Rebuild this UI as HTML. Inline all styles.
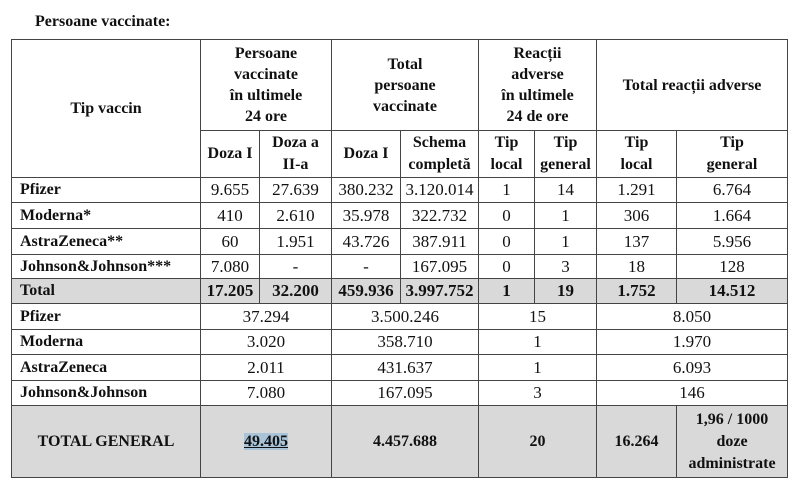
<!DOCTYPE html>
<html><head><meta charset="utf-8"><style>
html,body{margin:0;padding:0;background:#fff;width:800px;height:487px;overflow:hidden}
#title{position:absolute;left:35px;top:13px;font:bold 16px "Liberation Serif",serif;color:#111}
table{position:absolute;left:11px;top:39px;border-collapse:collapse;table-layout:fixed;font-family:"Liberation Serif",serif;color:#111}
td{border:1px solid #444;text-align:center;vertical-align:middle;padding:0;font-size:17px;line-height:18px;overflow:hidden;white-space:nowrap}
.h{font-weight:bold;font-size:16px;line-height:21px;white-space:normal}
.h2{line-height:22px}
.n{text-align:left;padding-left:8px;font-weight:bold;font-size:16px}
.g{background:#d9d9d9}
.b{font-weight:bold}
.s{font-size:17px}
.hl{background:#a9c4d8;text-decoration:underline}
</style></head><body>
<div id="title">Persoane vaccinate:</div>
<table>
<colgroup><col style="width:189px"><col style="width:59px"><col style="width:72px"><col style="width:69px"><col style="width:78px"><col style="width:56px"><col style="width:62px"><col style="width:80px"><col style="width:111px"></colgroup>
<tr style="height:91px">
<td class="h" rowspan="2">Tip vaccin</td>
<td class="h" colspan="2">Persoane<br>vaccinate<br>în ultimele<br>24 ore</td>
<td class="h" colspan="2">Total<br>persoane<br>vaccinate</td>
<td class="h" colspan="2">Reacții<br>adverse<br>în ultimele<br>24 de ore</td>
<td class="h" colspan="2">Total reacții adverse</td>
</tr>
<tr style="height:47px">
<td class="h h2">Doza I</td>
<td class="h h2">Doza a<br>II-a</td>
<td class="h h2">Doza I</td>
<td class="h h2">Schema<br>completă</td>
<td class="h h2">Tip<br>local</td>
<td class="h h2">Tip<br>general</td>
<td class="h h2">Tip<br>local</td>
<td class="h h2">Tip<br>general</td>
</tr>
<tr style="height:25px"><td class="n">Pfizer</td><td>9.655</td><td>27.639</td><td>380.232</td><td>3.120.014</td><td>1</td><td>14</td><td>1.291</td><td>6.764</td></tr>
<tr style="height:26px"><td class="n">Moderna*</td><td>410</td><td>2.610</td><td>35.978</td><td>322.732</td><td>0</td><td>1</td><td>306</td><td>1.664</td></tr>
<tr style="height:26px"><td class="n">AstraZeneca**</td><td>60</td><td>1.951</td><td>43.726</td><td>387.911</td><td>0</td><td>1</td><td>137</td><td>5.956</td></tr>
<tr style="height:24px"><td class="n">Johnson&amp;Johnson***</td><td>7.080</td><td>-</td><td>-</td><td>167.095</td><td>0</td><td>3</td><td>18</td><td>128</td></tr>
<tr style="height:25px" class="g b"><td class="n">Total</td><td class="b">17.205</td><td class="b">32.200</td><td class="b">459.936</td><td class="b">3.997.752</td><td class="b">1</td><td class="b">19</td><td class="b">1.752</td><td class="b">14.512</td></tr>
<tr style="height:26px"><td class="n">Pfizer</td><td colspan="2" class="s">37.294</td><td colspan="2" class="s">3.500.246</td><td colspan="2" class="s">15</td><td colspan="2" class="s">8.050</td></tr>
<tr style="height:25px"><td class="n">Moderna</td><td colspan="2" class="s">3.020</td><td colspan="2" class="s">358.710</td><td colspan="2" class="s">1</td><td colspan="2" class="s">1.970</td></tr>
<tr style="height:26px"><td class="n">AstraZeneca</td><td colspan="2" class="s">2.011</td><td colspan="2" class="s">431.637</td><td colspan="2" class="s">1</td><td colspan="2" class="s">6.093</td></tr>
<tr style="height:25px"><td class="n">Johnson&amp;Johnson</td><td colspan="2" class="s">7.080</td><td colspan="2" class="s">167.095</td><td colspan="2" class="s">3</td><td colspan="2" class="s">146</td></tr>
<tr style="height:72px" class="g"><td class="b" style="font-size:16px">TOTAL GENERAL</td><td colspan="2" class="b" style="font-size:16px"><span class="hl">49.405</span></td><td colspan="2" class="b" style="font-size:16px">4.457.688</td><td colspan="2" class="b" style="font-size:16px">20</td><td class="b" style="font-size:16px">16.264</td><td class="b" style="font-size:16px;white-space:normal;line-height:22px">1,96 / 1000<br>doze<br>administrate</td></tr>
</table>
</body></html>
